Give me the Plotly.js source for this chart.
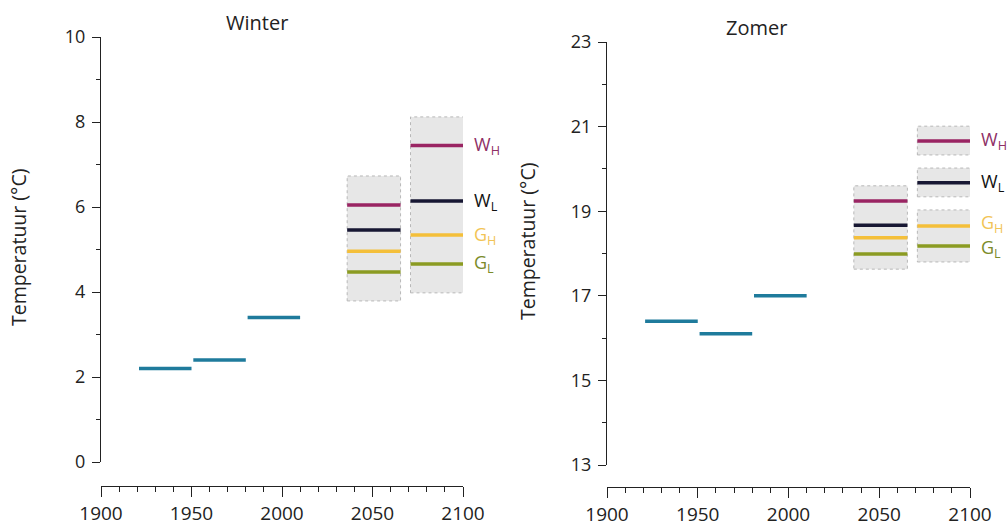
<!DOCTYPE html>
<html><head><meta charset="utf-8">
<script src="https://cdn.plot.ly/plotly-3.0.1.min.js"></script>
<style>html,body{margin:0;padding:0;background:#fff}</style>
</head><body><div id="chart" style="width:1007px;height:526px"></div>
<script>
// Observed periods (start, end) and means
const obsStart = [1921, 1951, 1981];
const obsEnd   = [1950, 1980, 2010];
const winterObs = [2.2, 2.4, 3.4];
const zomerObs  = [16.4, 16.1, 17.0];

// Scenario periods
const scenStart = [2036, 2071];
const scenEnd   = [2065, 2100];
const scenNames = ["W_H", "W_L", "G_H", "G_L"];
const scenLabels = ["W<sub>H</sub>", "W<sub>L</sub>", "G<sub>H</sub>", "G<sub>L</sub>"];
const scenColors = ["#9a2563", "#171733", "#f4bf3a", "#8b9b22"];
const labelColors = ["#8e2f66", "#111111", "#f2c456", "#7b8b2a"];

// Winter scenarios (period 2050, 2085)
const winterWH = [6.05, 7.45];
const winterWL = [5.46, 6.14];
const winterGH = [4.96, 5.34];
const winterGL = [4.47, 4.66];
// Winter uncertainty boxes: period index, low, high
const winterBoxPeriod = [0, 1];
const winterBoxLow  = [3.79, 3.98];
const winterBoxHigh = [6.73, 8.12];

// Zomer scenarios
const zomerWH = [19.24, 20.66];
const zomerWL = [18.67, 19.67];
const zomerGH = [18.37, 18.65];
const zomerGL = [17.99, 18.18];
const zomerBoxPeriod = [0, 1, 1, 1];
const zomerBoxLow  = [17.63, 20.33, 19.34, 17.80];
const zomerBoxHigh = [19.60, 21.01, 20.02, 19.03];

const xRange = [1900, 2100];
const labelYear = 2105;
const domX1 = [101/1007, 463/1007];
const domX2 = [607/1007, 970/1007];

const traces = [];
const shapes = [];
const annotations = [];
const obsColor = "#1f7b9c";

function toPaperX(dom, yr) { return dom[0] + (yr - xRange[0]) / (xRange[1] - xRange[0]) * (dom[1] - dom[0]); }

function addPanel(xr, yr, dom, obs, scen, boxP, boxL, boxH, shifts) {
  for (let i = 0; i < boxP.length; i++) {
    const p = boxP[i];
    shapes.push({type:'rect', xref:xr, yref:yr, x0:scenStart[p], x1:scenEnd[p]+0.5,
      y0:boxL[i], y1:boxH[i], fillcolor:'#e7e7e7', line:{color:'#b8b8b8', width:1, dash:'dot'}, layer:'below'});
  }
  for (let i = 0; i < obs.length; i++) {
    traces.push({type:'scatter', mode:'lines', xaxis:xr, yaxis:yr, x:[obsStart[i], obsEnd[i]], y:[obs[i], obs[i]],
      line:{color:obsColor, width:3.5}, showlegend:false, hoverinfo:'skip', cliponaxis:false});
  }
  for (let s = 0; s < scen.length; s++) {
    for (let p = 0; p < scenStart.length; p++) {
      traces.push({type:'scatter', mode:'lines', xaxis:xr, yaxis:yr, x:[scenStart[p], scenEnd[p]+0.5], y:[scen[s][p], scen[s][p]],
        line:{color:scenColors[s], width:3.5}, showlegend:false, hoverinfo:'skip', cliponaxis:false});
    }
    annotations.push({xref:'paper', yref:yr, x:toPaperX(dom, labelYear), y:scen[s][1], xanchor:'left', yanchor:'middle',
      yshift:shifts[s], text:scenLabels[s], showarrow:false, font:{family:'Open Sans, sans-serif', size:18, color:labelColors[s]}});
  }
}

addPanel('x', 'y', domX1, winterObs, [winterWH, winterWL, winterGH, winterGL], winterBoxPeriod, winterBoxLow, winterBoxHigh, [0,0,0,0]);
addPanel('x2', 'y2', domX2, zomerObs, [zomerWH, zomerWL, zomerGH, zomerGL], zomerBoxPeriod, zomerBoxLow, zomerBoxHigh, [0,0,3,-3]);

const F = {family:'Open Sans, sans-serif', size:18, color:'#222'};
annotations.push({xref:'paper', yref:'paper', x:257/1007, y:1-22/526, text:'Winter', showarrow:false, font:{...F, size:20}, xanchor:'center', yanchor:'middle'});
annotations.push({xref:'paper', yref:'paper', x:756/1007, y:1-27/526, text:'Zomer', showarrow:false, font:{...F, size:20}, xanchor:'center', yanchor:'middle'});
annotations.push({xref:'paper', yref:'paper', x:18/1007, y:1-248/526, text:'Temperatuur (°C)', textangle:-90, showarrow:false, font:{...F, size:19.5}, xanchor:'center', yanchor:'middle'});
annotations.push({xref:'paper', yref:'paper', x:527/1007, y:1-242/526, text:'Temperatuur (°C)', textangle:-90, showarrow:false, font:{...F, size:19.5}, xanchor:'center', yanchor:'middle'});

const xBase = {range:xRange, tickvals:[1900,1950,2000,2050,2100], ticks:'outside', ticklen:10, tickwidth:1, tickcolor:'#222',
  showline:true, linecolor:'#222', linewidth:1, showgrid:false, zeroline:false, tickfont:{...F, size:19}, anchor:'free', ticklabelstandoff:0,
  minor:{dtick:10, ticks:'outside', ticklen:5, tickcolor:'#222', showgrid:false}};
const yBase = {ticks:'outside', ticklen:8, tickwidth:1, tickcolor:'#222', showline:true, linecolor:'#222', linewidth:1,
  showgrid:false, zeroline:false, tickfont:F, ticklabelstandoff:3,
  minor:{dtick:1, ticks:'outside', ticklen:4, tickcolor:'#222', showgrid:false}};

const layout = {
  width:1007, height:526, margin:{l:0, r:0, t:0, b:0}, paper_bgcolor:'#fff', plot_bgcolor:'rgba(0,0,0,0)',
  showlegend:false,
  xaxis: {...xBase, domain:domX1, position:1-486/526},
  yaxis: {...yBase, domain:[1-462/526, 1-37/526], range:[0, 10], tickvals:[0,2,4,6,8,10], anchor:'x'},
  xaxis2: {...xBase, domain:domX2, position:1-487/526},
  yaxis2: {...yBase, domain:[1-465/526, 1-42/526], range:[13, 23], tickvals:[13,15,17,19,21,23], anchor:'x2'},
  shapes, annotations
};
Plotly.newPlot('chart', traces, layout, {displayModeBar:false, staticPlot:true});
</script></body></html>
